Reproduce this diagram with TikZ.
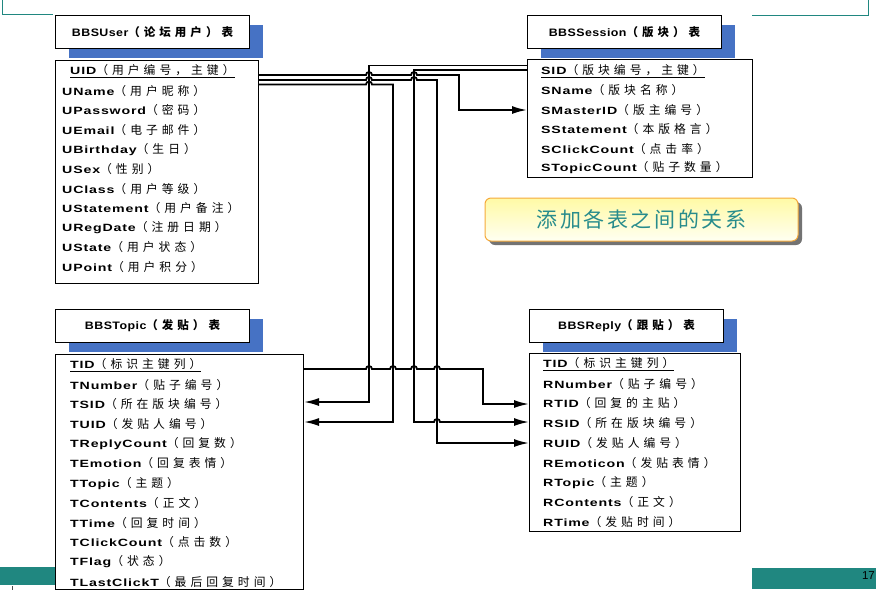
\documentclass[tikz,border=0pt]{standalone}
\usepackage{fontspec}
\setmainfont{Liberation Sans}
\newfontfamily\latf[FakeStretch=1.35,LetterSpace=8]{Liberation Sans}
\newfontfamily\cjkf[LetterSpace=34]{Noto Sans CJK SC}
\newfontfamily\titlat[FakeStretch=1.15,LetterSpace=4]{Liberation Sans}
\newfontfamily\titcjk[LetterSpace=35]{Noto Sans CJK SC}
\newfontfamily\bancjk[LetterSpace=12]{Noto Sans CJK SC}
\usetikzlibrary{arrows.meta,shadows}
\definecolor{teal1}{RGB}{32,135,128}
\definecolor{shblue}{RGB}{70,114,196}
\definecolor{banborder}{RGB}{245,170,60}
\definecolor{bantop}{RGB}{255,250,165}
\definecolor{banbot}{RGB}{255,255,242}
\definecolor{bantext}{RGB}{40,140,140}
\newcommand\fieldtext[2]{{\latf\bfseries #1}{\cjkf\fontsize{11.8}{12}\selectfont （#2）}}
\newcommand\titletext[2]{{\titlat\bfseries #1}{\titcjk\bfseries\fontsize{11.5}{12}\selectfont （#2）表}}
\tikzset{
  titlebox/.style={draw, fill=white, line width=1pt, minimum width=194pt, minimum height=33pt,
    anchor=north west, inner sep=0pt,
    general shadow={fill=shblue, shadow xshift=13pt, shadow yshift=-9pt},
    font=\fontsize{10.8}{12}\selectfont},
  fieldbox/.style={draw, line width=1pt, anchor=north west, inner sep=0pt},
  row/.style={anchor=west, inner sep=0pt, font=\fontsize{10.5}{12}\selectfont},
  conn/.style={line width=1.8pt},
  arr/.style={-{Latex[length=15pt,width=8pt]}},
  frame/.style={teal1, line width=1pt}
}
\begin{document}
\begin{tikzpicture}[x=1pt,y=1pt]
\useasboundingbox (0,0) rectangle (876,-590);
% slide decorations
\draw[frame] (2,0) -- (2,-14) -- (53,-14);
\draw[frame] (752,-15) -- (868,-15) -- (868,0);
\fill[teal1] (0,-567) rectangle (55,-585);
\draw[black!70, line width=0.8pt] (12,-586) -- (12,-590);
\fill[teal1] (752,-568) rectangle (876,-589);
\node[font=\fontsize{11.5}{12}\selectfont, anchor=east, inner sep=0pt] (pagenum) at (875,-576) {17};

% title boxes
\node[titlebox] (ut) at (55,-15) {\titletext{BBSUser}{论坛用户}};
\node[titlebox] (st) at (527,-15) {\titletext{BBSSession}{版块}};
\node[titlebox] (tt) at (55,-309) {\titletext{BBSTopic}{发贴}};
\node[titlebox] (rt) at (529,-309) {\titletext{BBSReply}{跟贴}};

% field boxes
\node[fieldbox, minimum width=203pt, minimum height=223pt] (ubox) at (55,-60) {};
\node[fieldbox, minimum width=225pt, minimum height=118pt] (sbox) at (527,-59) {};
\node[fieldbox, minimum width=248pt, minimum height=235pt] (tbox) at (55,-354) {};
\node[fieldbox, minimum width=211pt, minimum height=178pt] (rbox) at (529,-353) {};

% BBSUser rows
\node[row] (u1) at (70,-71) {\underline{\fieldtext{UID}{用户编号，主键}}};
\foreach \a/\b [count=\i from 2] in {UName/用户昵称, UPassword/密码, UEmail/电子邮件, UBirthday/生日,
   USex/性别, UClass/用户等级, UStatement/用户备注, URegDate/注册日期, UState/用户状态, UPoint/用户积分}
  \node[row] (u\i) at (62,{-71-19.6*(\i-1)}) {\fieldtext{\a}{\b}};

% BBSSession rows
\node[row] (s1) at (541,-71) {\underline{\fieldtext{SID}{版块编号，主键}}};
\foreach \a/\b [count=\i from 2] in {SName/版块名称, SMasterID/版主编号, SStatement/本版格言,
   SClickCount/点击率, STopicCount/贴子数量}
  \node[row] (s\i) at (541,{-71-19.4*(\i-1)}) {\fieldtext{\a}{\b}};

% BBSTopic rows
\node[row] (t1) at (70,-365) {\underline{\fieldtext{TID}{标识主键列}}};
\foreach \a/\b [count=\i from 2] in {TNumber/贴子编号, TSID/所在版块编号, TUID/发贴人编号,
   TReplyCount/回复数, TEmotion/回复表情, TTopic/主题, TContents/正文, TTime/回复时间,
   TClickCount/点击数, TFlag/状态, TLastClickT/最后回复时间}
  \node[row] (t\i) at (70,{-365-19.7*(\i-1)}) {\fieldtext{\a}{\b}};

% BBSReply rows
\node[row] (r1) at (543,-364) {\underline{\fieldtext{TID}{标识主键列}}};
\foreach \a/\b [count=\i from 2] in {RNumber/贴子编号, RTID/回复的主贴, RSID/所在版块编号,
   RUID/发贴人编号, REmoticon/发贴表情, RTopic/主题, RContents/正文, RTime/发贴时间}
  \node[row] (r\i) at (543,{-364-19.75*(\i-1)}) {\fieldtext{\a}{\b}};

% banner
\node[draw=banborder, line width=1pt, rounded corners=6pt, top color=bantop, bottom color=banbot,
  minimum width=313pt, minimum height=43pt,
  drop shadow={shadow xshift=4pt, shadow yshift=-4pt, fill=black!55, opacity=1},
  font=\bancjk\fontsize{21}{24}\selectfont, text=bantext] (banner) at (641.5,-219.5) {添加各表之间的关系};

% connectors
\draw[conn,arr] (ubox.east |- 0,-75) -- (366,-75) arc[start angle=180,end angle=0,radius=3]
  -- (411,-75) arc[start angle=180,end angle=0,radius=3] -- (459,-75) -- (459,-110) -- (sbox.west |- 0,-110);
\draw[conn,arr] (ubox.east |- 0,-80) -- (366,-80) arc[start angle=180,end angle=0,radius=3]
  -- (411,-80) arc[start angle=180,end angle=0,radius=3] -- (437,-80) -- (437,-443) -- (rbox.west |- 0,-443);
\draw[conn,arr] (ubox.east |- 0,-84.5) -- (366,-84.5) arc[start angle=180,end angle=0,radius=3]
  -- (393,-84.5) -- (393,-422) -- (tbox.east |- 0,-422);
\draw[conn,arr] (sbox.west |- 0,-65.5) -- (369,-65.5) -- (369,-402) -- (tbox.east |- 0,-402);
\draw[conn,arr] (sbox.west |- 0,-70) -- (414,-70) -- (414,-422) -- (434,-422)
  arc[start angle=180,end angle=0,radius=3] -- (rbox.west |- 0,-422);
\draw[conn,arr] (tbox.east |- 0,-369) -- (366,-369) arc[start angle=180,end angle=0,radius=3]
  -- (390,-369) arc[start angle=180,end angle=0,radius=3]
  -- (411,-369) arc[start angle=180,end angle=0,radius=3]
  -- (434,-369) arc[start angle=180,end angle=0,radius=3]
  -- (483,-369) -- (483,-404) -- (rbox.west |- 0,-404);
\end{tikzpicture}
\end{document}
